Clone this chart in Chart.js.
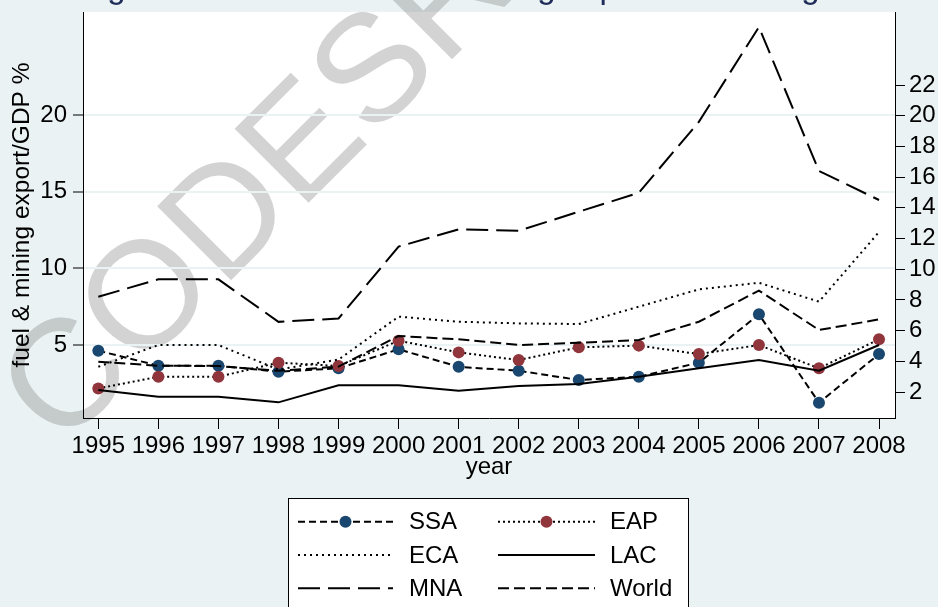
<!DOCTYPE html>
<html>
<head>
<meta charset="utf-8">
<script src="https://cdn.jsdelivr.net/npm/chart.js@4.4.1/dist/chart.umd.min.js"></script>
<style>
  html, body { margin: 0; padding: 0; background: #eaf2f3; overflow: hidden; }
  #wrap { position: relative; width: 938px; height: 607px; }
</style>
</head>
<body>
<div id="wrap"><canvas id="c" width="938" height="607"></canvas></div>
<script>
// Fuel & mining exports as a share of GDP, by region
const years = [1995, 1996, 1997, 1998, 1999, 2000, 2001, 2002, 2003, 2004, 2005, 2006, 2007, 2008];
const ssa   = [4.63, 3.65, 3.65, 3.26, 3.48, 4.72, 3.58, 3.32, 2.72, 2.93, 3.85, 7.00, 1.24, 4.41];
const eap   = [2.17, 2.93, 2.93, 3.85, 3.63, 5.28, 4.52, 4.02, 4.85, 4.96, 4.41, 5.00, 3.48, 5.37];
const eca   = [3.58, 5.00, 5.00, 3.40, 4.05, 6.85, 6.52, 6.41, 6.37, 7.50, 8.63, 9.06, 7.83, 12.37];
const lac   = [2.06, 1.63, 1.63, 1.26, 2.37, 2.37, 2.02, 2.33, 2.46, 2.93, 3.48, 4.02, 3.32, 5.00];
const mna   = [8.21, 9.34, 9.34, 6.57, 6.79, 11.47, 12.60, 12.50, 13.75, 14.98, 19.60, 25.78, 16.40, 14.51];
const world = [3.91, 3.65, 3.63, 3.32, 3.59, 5.59, 5.37, 5.00, 5.15, 5.33, 6.52, 8.55, 5.98, 6.67];

const leftTicks  = [5, 10, 15, 20];
const rightTicks = [2, 4, 6, 8, 10, 12, 14, 16, 18, 20, 22];

const titleText = 'Figure 3: Trends in fuel & mining export across regions';
const yTitle = 'fuel & mining export/GDP %';
const xTitle = 'year';
const stamp = 'CODESRIA';

const BG = '#eaf2f3';
const NAVY = '#1a476f';
const MAROON = '#90353b';
const FONT = 'Liberation Sans, Arial, sans-serif';

const pts = arr => years.map((yr, i) => ({ x: yr, y: arr[i] }));

function series(label, arr, dash, marker, axis, order) {
  return {
    label, data: pts(arr), yAxisID: axis, order,
    borderColor: '#000', borderWidth: 2, borderDash: dash,
    pointRadius: marker ? 6 : 0, pointHoverRadius: marker ? 6 : 0,
    pointBackgroundColor: marker || '#000', pointBorderWidth: 0,
    tension: 0, fill: false
  };
}

const datasets = [
  series('SSA',   ssa,   [7, 4],  NAVY,   'y',  6),
  series('EAP',   eap,   [2, 3],  MAROON, 'y',  5),
  series('ECA',   eca,   [2, 4],  null,   'y',  4),
  series('LAC',   lac,   [],      null,   'y',  3),
  series('MNA',   mna,   [22, 8], null,   'y1', 2),
  series('World', world, [11, 5], null,   'y',  1)
];

// Backdrop, plot region, stamp and title
const frame = {
  id: 'frame',
  beforeDraw(chart) {
    const { ctx, chartArea: a, width, height } = chart;
    ctx.save();
    ctx.fillStyle = BG;
    ctx.fillRect(0, 0, width, height);
    ctx.fillStyle = '#fff';
    ctx.fillRect(a.left, a.top, a.right - a.left, a.bottom - a.top);
    ctx.translate(312, 140);
    ctx.rotate(-45 * Math.PI / 180);
    ctx.font = '152px ' + FONT;
    ctx.fillStyle = 'rgba(128,128,128,0.35)';
    ctx.textAlign = 'center';
    ctx.textBaseline = 'middle';
    ctx.fillText(stamp, 0, 0);
    ctx.restore();
    ctx.save();
    ctx.font = '33px ' + FONT;
    ctx.fillStyle = '#1e2c5a';
    ctx.textAlign = 'center';
    ctx.textBaseline = 'alphabetic';
    ctx.fillText(titleText, 480, -2);
    ctx.restore();
  }
};

// Boxed two-column key
const key = {
  id: 'key',
  afterDraw(chart) {
    const { ctx } = chart;
    const box = { x: 288.5, y: 498.5, w: 400, h: 140 };
    const cols = [{ x0: 298, x1: 393, tx: 409 }, { x0: 498, x1: 595, tx: 610 }];
    const rows = [521.7, 555, 588.3];
    ctx.save();
    ctx.fillStyle = '#fff';
    ctx.fillRect(box.x, box.y, box.w, box.h);
    ctx.strokeStyle = '#000';
    ctx.lineWidth = 1;
    ctx.strokeRect(box.x, box.y, box.w, box.h);
    chart.data.datasets.forEach((ds, i) => {
      const c = cols[i % 2], y = rows[Math.floor(i / 2)];
      ctx.beginPath();
      ctx.setLineDash(ds.borderDash);
      ctx.lineWidth = ds.borderWidth;
      ctx.strokeStyle = ds.borderColor;
      ctx.moveTo(c.x0, y);
      ctx.lineTo(c.x1, y);
      ctx.stroke();
      ctx.setLineDash([]);
      if (ds.pointRadius > 0) {
        ctx.beginPath();
        ctx.fillStyle = ds.pointBackgroundColor;
        ctx.arc((c.x0 + c.x1) / 2, y, ds.pointRadius, 0, Math.PI * 2);
        ctx.fill();
      }
      ctx.fillStyle = '#000';
      ctx.font = '24px ' + FONT;
      ctx.textAlign = 'left';
      ctx.textBaseline = 'middle';
      ctx.fillText(ds.label, c.tx, y + 1);
    });
    ctx.restore();
  }
};

const tickFont = { family: FONT, size: 24 };
const noPad = s => { s.paddingTop = 0; s.paddingBottom = 0; s.paddingLeft = 0; s.paddingRight = 0; };

new Chart(document.getElementById('c'), {
  type: 'line',
  data: { datasets },
  options: {
    responsive: false,
    animation: false,
    devicePixelRatio: 1,
    layout: { padding: { top: 12, left: 0, right: 0, bottom: 123 } },
    plugins: { legend: { display: false }, tooltip: { enabled: false }, title: { display: false } },
    scales: {
      x: {
        type: 'linear', position: 'bottom',
        min: 1994.745, max: 2008.266,
        afterBuildTicks: s => { s.ticks = years.map(v => ({ value: v })); },
        afterFit: s => { s.height = 66; noPad(s); },
        ticks: { font: tickFont, color: '#000', padding: 3, maxRotation: 0, autoSkip: false, callback: v => String(v) },
        grid: { drawOnChartArea: false, tickLength: 11, tickColor: '#000', tickWidth: 1 },
        border: { display: true, color: '#000', width: 1 },
        title: { display: true, text: xTitle, font: tickFont, color: '#000', padding: { top: 0, bottom: 2 } }
      },
      y: {
        type: 'linear', position: 'left',
        min: 0.24, max: 26.72,
        afterBuildTicks: s => { s.ticks = leftTicks.map(v => ({ value: v })); },
        afterFit: s => { s.width = 83; noPad(s); },
        ticks: { font: tickFont, color: '#000', padding: 6, callback: v => String(v) },
        grid: { color: BG, lineWidth: 2, tickLength: 10, tickColor: '#000', tickWidth: 1 },
        border: { display: true, color: '#000', width: 1 },
        title: { display: true, text: yTitle, font: { family: FONT, size: 24.5 }, color: '#000', padding: { top: 8, bottom: 0 } }
      },
      y1: {
        type: 'linear', position: 'right',
        min: 0.306, max: 26.76,
        afterBuildTicks: s => { s.ticks = rightTicks.map(v => ({ value: v })); },
        afterFit: s => { s.width = 43; noPad(s); },
        ticks: { font: tickFont, color: '#000', padding: 4, callback: v => String(v) },
        grid: { drawOnChartArea: false, tickLength: 10, tickColor: '#000', tickWidth: 1 },
        border: { display: true, color: '#000', width: 1 }
      }
    }
  },
  plugins: [frame, key]
});
</script>
</body>
</html>
